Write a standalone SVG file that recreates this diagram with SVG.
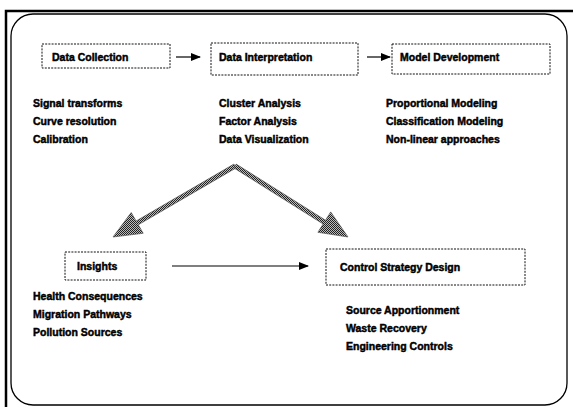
<svg xmlns="http://www.w3.org/2000/svg" width="573" height="407" viewBox="0 0 573 407">
<style>
.box{fill:none;stroke:#111;stroke-width:1;stroke-dasharray:2 1.2}
.t{font-family:"Liberation Sans",Arial,sans-serif;font-weight:bold;font-size:10.5px;fill:#000;stroke:#000;stroke-width:0.45}
.ln{stroke:#000;stroke-width:1.2;fill:none}
.big{fill:url(#hatch);stroke:#444;stroke-width:0.6}
</style>
<defs>
<marker id="ah" markerWidth="10" markerHeight="8" refX="9" refY="4" orient="auto" markerUnits="userSpaceOnUse">
<path d="M0,0 L10,4 L0,8 Z" fill="#000"/>
</marker>
<pattern id="hatch" width="2" height="2" patternUnits="userSpaceOnUse">
<rect width="2" height="2" fill="#bbb"/>
<rect x="0" y="0" width="1" height="1" fill="#222"/>
<rect x="1" y="1" width="1" height="1" fill="#222"/>
</pattern>
</defs>
<rect width="573" height="407" fill="#fff"/>
<g id="frame">
<path d="M6,407 V11 H573" fill="none" stroke="#000" stroke-width="2.5"/>
<rect x="11" y="14" width="556" height="391" rx="22" ry="22" fill="none" stroke="#000" stroke-width="1.3"/>
</g>
<g id="connectors">
<line class="ln" x1="176" y1="57" x2="200" y2="57" marker-end="url(#ah)"/>
<line class="ln" x1="367" y1="57" x2="390" y2="57" marker-end="url(#ah)"/>
<line class="ln" x1="172" y1="266" x2="308" y2="266" stroke-width="1" marker-end="url(#ah)"/>
<polygon class="big" points="236.1,167.9 138.3,224.8 143.2,233.3 113,237 131.2,212.5 136.1,221.0 233.9,164.1"/>
<polygon class="big" points="233.8,167.9 323.1,224.0 317.9,232.3 348,237 330.7,211.9 325.5,220.2 236.2,164.1"/>
</g>
<g id="data-collection">
<rect class="box" x="42" y="44" width="128" height="24"/>
<text class="t" x="52" y="61">Data Collection</text>
<text class="t" x="33" y="107">Signal transforms</text>
<text class="t" x="33" y="125">Curve resolution</text>
<text class="t" x="33" y="143">Calibration</text>
</g>
<g id="data-interpretation">
<rect class="box" x="211" y="43" width="147" height="32"/>
<text class="t" x="219" y="61">Data Interpretation</text>
<text class="t" x="219" y="107">Cluster Analysis</text>
<text class="t" x="219" y="125">Factor Analysis</text>
<text class="t" x="219" y="143">Data Visualization</text>
</g>
<g id="model-development">
<rect class="box" x="392" y="44" width="158" height="30"/>
<text class="t" x="400" y="61">Model Development</text>
<text class="t" x="386" y="107">Proportional Modeling</text>
<text class="t" x="386" y="125">Classification Modeling</text>
<text class="t" x="386" y="143">Non-linear approaches</text>
</g>
<g id="insights">
<rect class="box" x="65" y="252" width="81" height="28"/>
<text class="t" x="77" y="270">Insights</text>
<text class="t" x="33" y="300">Health Consequences</text>
<text class="t" x="33" y="318">Migration Pathways</text>
<text class="t" x="33" y="336">Pollution Sources</text>
</g>
<g id="control-strategy">
<rect class="box" x="326" y="249" width="199" height="36"/>
<text class="t" x="340" y="271">Control Strategy Design</text>
<text class="t" x="346" y="314">Source Apportionment</text>
<text class="t" x="346" y="332">Waste Recovery</text>
<text class="t" x="346" y="350">Engineering Controls</text>
</g>
</svg>
